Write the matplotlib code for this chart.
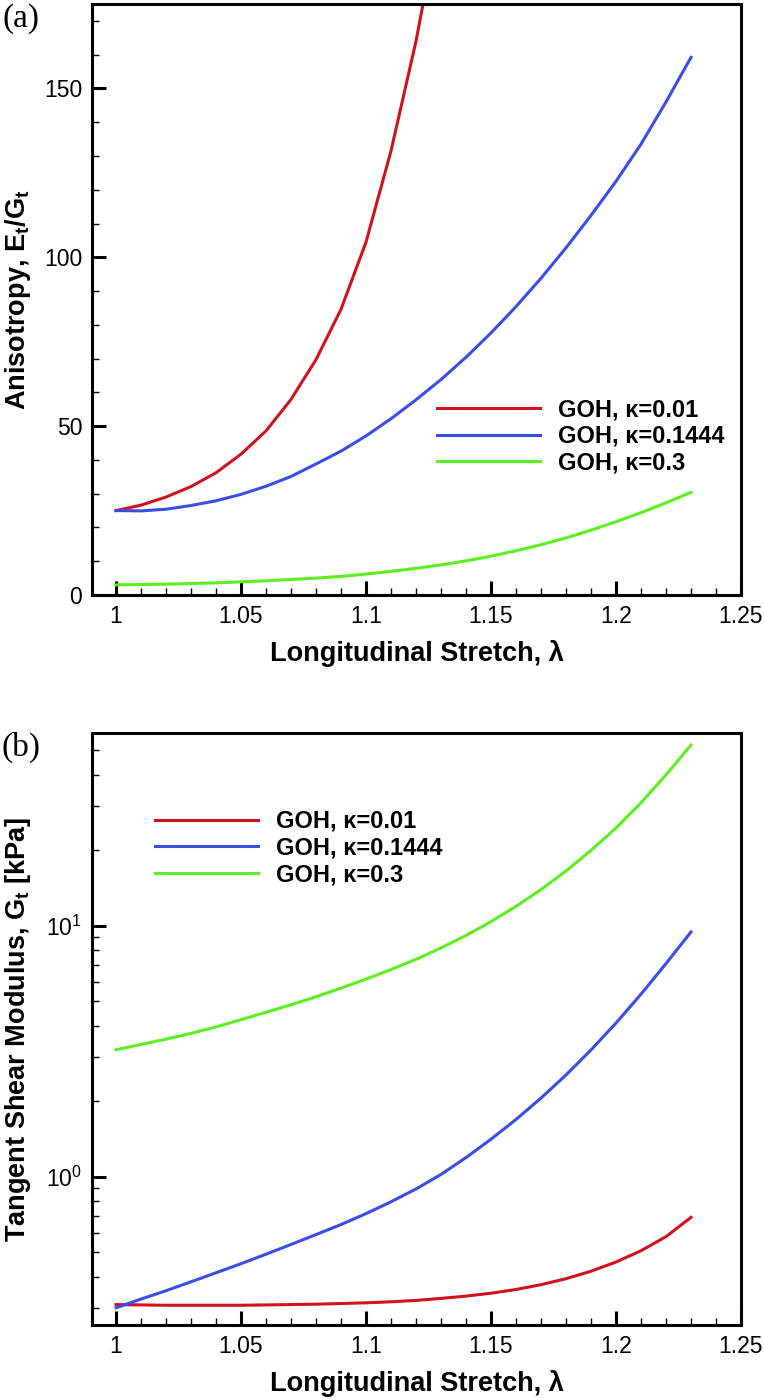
import matplotlib
matplotlib.use('Agg')
import matplotlib.pyplot as plt
from matplotlib.ticker import MultipleLocator, FixedLocator, NullFormatter

plt.rcParams['font.family'] = ['Liberation Sans', 'DejaVu Sans']
plt.rcParams['mathtext.fontset'] = 'custom'
plt.rcParams['mathtext.rm'] = 'Liberation Sans'
plt.rcParams['mathtext.bf'] = 'Liberation Sans:bold'
plt.rcParams['mathtext.it'] = 'Liberation Sans:italic'

# stretch values, step 0.01
lam = [1.00, 1.01, 1.02, 1.03, 1.04, 1.05, 1.06, 1.07, 1.08, 1.09, 1.10, 1.11,
       1.12, 1.13, 1.14, 1.15, 1.16, 1.17, 1.18, 1.19, 1.20, 1.21, 1.22, 1.23]

# (a) anisotropy E_t/G_t
aniso_k001 = [25.0, 26.6, 29.0, 32.1, 36.2, 41.7, 48.6, 57.9, 69.7, 84.6, 104.5,
              131.5, 164.0, 203.0]
aniso_k01444 = [25.0, 24.9, 25.4, 26.5, 27.9, 29.8, 32.2, 35.1, 38.8, 42.6, 47.1,
                52.2, 57.8, 63.8, 70.4, 77.6, 85.4, 93.8, 102.8, 112.4, 122.5,
                133.5, 146.0, 159.2]
aniso_k03 = [3.0, 3.1, 3.2, 3.4, 3.6, 3.9, 4.2, 4.6, 5.0, 5.5, 6.2, 7.0, 7.9, 8.9,
             10.1, 11.5, 13.1, 14.9, 16.9, 19.2, 21.7, 24.4, 27.3, 30.4]

# (b) tangent shear modulus G_t [kPa]
g_k001 = [0.310, 0.309, 0.308, 0.308, 0.308, 0.308, 0.309, 0.310, 0.311, 0.313,
          0.315, 0.318, 0.322, 0.328, 0.335, 0.344, 0.356, 0.372, 0.393, 0.421,
          0.458, 0.508, 0.578, 0.690]
g_k01444 = [0.301, 0.326, 0.352, 0.382, 0.415, 0.451, 0.492, 0.538, 0.589, 0.646,
            0.714, 0.796, 0.895, 1.023, 1.194, 1.413, 1.694, 2.061, 2.547, 3.206,
            4.102, 5.346, 7.079, 9.462]
g_k03 = [3.21, 3.37, 3.54, 3.73, 3.96, 4.23, 4.53, 4.85, 5.22, 5.65, 6.14, 6.70,
         7.36, 8.17, 9.16, 10.40, 11.97, 13.96, 16.56, 20.0, 24.55, 30.97, 39.99,
         52.6]

labels = ['GOH, κ=0.01', 'GOH, κ=0.1444', 'GOH, κ=0.3']
colors = ['#d0121c', '#3a4de8', '#5ef01e']

W, H = 764, 1399
fig = plt.figure(figsize=(W / 100, H / 100), dpi=100)


def box(l, t, r, b):
    return [l / W, 1 - b / H, (r - l) / W, (b - t) / H]


def style(ax):
    for s in ax.spines.values():
        s.set_linewidth(2.2)
    ax.tick_params(which='both', direction='in', top=False, right=False,
                   labelsize=16.5, pad=7)
    ax.tick_params(which='major', length=10, width=2.2)
    ax.tick_params(which='minor', length=5, width=1.0)
    ax.set_xlim(0.9904, 1.25)
    ax.xaxis.set_major_locator(FixedLocator([1.0, 1.05, 1.1, 1.15, 1.2, 1.25]))
    ax.set_xticklabels(['1', '1.05', '1.1', '1.15', '1.2', '1.25'])
    ax.xaxis.set_minor_locator(MultipleLocator(0.01))
    ax.set_xlabel('Longitudinal Stretch, λ', fontsize=19.5, fontweight='bold')
    ax.xaxis.set_label_coords(0.5, -0.076)


def legend(ax, x, y):
    ax.legend(loc='center left', bbox_to_anchor=(x / W, 1 - y / H),
              bbox_transform=fig.transFigure, frameon=False, borderpad=0,
              borderaxespad=0, handlelength=4.36, handletextpad=0.76,
              labelspacing=0.15, prop={'size': 17, 'weight': 'bold'})


# panel (a)
ax1 = fig.add_axes(box(92, 4, 741, 595))
ax1.plot(lam[:len(aniso_k001)], aniso_k001, color=colors[0], lw=2.2, label=labels[0])
ax1.plot(lam, aniso_k01444, color=colors[1], lw=2.2, label=labels[1])
ax1.plot(lam, aniso_k03, color=colors[2], lw=2.2, label=labels[2])
style(ax1)
ax1.set_ylim(0, 175)
ax1.yaxis.set_major_locator(FixedLocator([0, 50, 100, 150]))
ax1.yaxis.set_minor_locator(MultipleLocator(10))
ax1.set_ylabel(r'Anisotropy, E$_\mathbf{t}$/G$_\mathbf{t}$', fontsize=19.5,
               fontweight='bold')
ax1.yaxis.set_label_coords(-0.091, 0.5)
legend(ax1, 437, 436.5)

# panel (b)
ax2 = fig.add_axes(box(92, 733, 741, 1325))
ax2.plot(lam, g_k001, color=colors[0], lw=2.2, label=labels[0])
ax2.plot(lam, g_k01444, color=colors[1], lw=2.2, label=labels[1])
ax2.plot(lam, g_k03, color=colors[2], lw=2.2, label=labels[2])
ax2.set_yscale('log')
style(ax2)
ax2.set_ylim(0.257, 58.7)
ax2.yaxis.set_major_locator(FixedLocator([1, 10]))
ax2.set_yticklabels([r'10$^0$', r'10$^1$'])
ax2.yaxis.set_minor_locator(FixedLocator([0.3, 0.4, 0.5, 0.6, 0.7, 0.8, 0.9,
                                          2, 3, 4, 5, 6, 7, 8, 9,
                                          20, 30, 40, 50]))
ax2.yaxis.set_minor_formatter(NullFormatter())
ax2.set_ylabel(r'Tangent Shear Modulus, G$_\mathbf{t}$ [kPa]', fontsize=19.5,
               fontweight='bold')
ax2.yaxis.set_label_coords(-0.091, 0.5)
legend(ax2, 155, 848)

fig.text(21 / W, 1 - 19 / H, '(a)', family='Liberation Serif', fontsize=24,
         ha='center', va='center')
fig.text(21 / W, 1 - 747 / H, '(b)', family='Liberation Serif', fontsize=24,
         ha='center', va='center')

fig.savefig('out.png', dpi=100)
